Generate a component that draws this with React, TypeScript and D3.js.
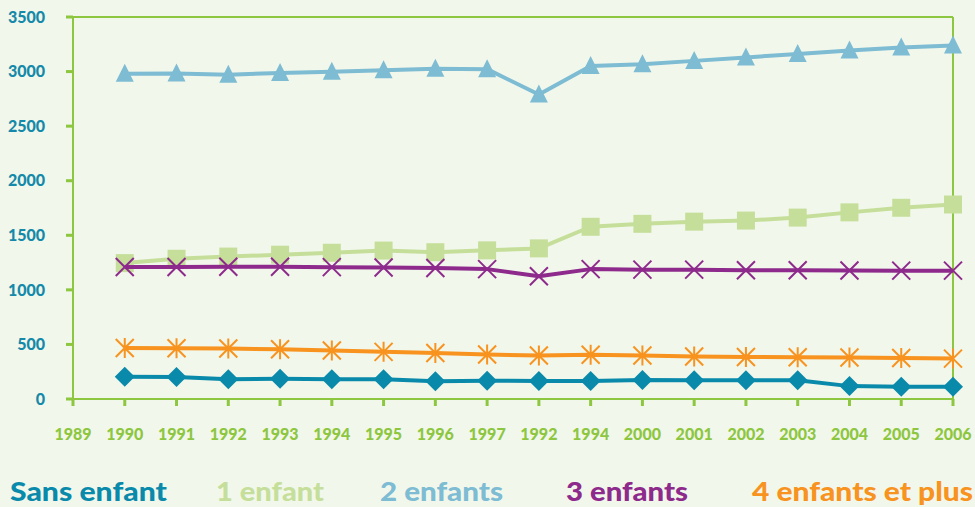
import React from "react";
import * as d3 from "d3";

const xLabels = ["1989","1990","1991","1992","1993","1994","1995","1996","1997","1992","1994","2000","2001","2002","2003","2004","2005","2006"];
const yTicks = [0, 500, 1000, 1500, 2000, 2500, 3000, 3500];

const sansEnfant = [205, 202, 182, 185, 182, 180, 163, 167, 165, 165, 175, 172, 172, 172, 118, 113, 113];
const unEnfant = [1245, 1285, 1305, 1322, 1340, 1360, 1345, 1362, 1380, 1578, 1605, 1625, 1635, 1662, 1710, 1752, 1782];
const deuxEnfants = [2980, 2982, 2972, 2988, 2998, 3012, 3025, 3022, 2790, 3052, 3068, 3098, 3130, 3162, 3192, 3220, 3240];
const troisEnfants = [1210, 1210, 1212, 1212, 1208, 1205, 1200, 1190, 1125, 1190, 1185, 1185, 1180, 1180, 1178, 1176, 1176];
const quatreEnfants = [468, 465, 462, 456, 445, 432, 422, 408, 398, 405, 398, 390, 385, 382, 380, 375, 370];

const seriesNames = ["Sans enfant", "1 enfant", "2 enfants", "3 enfants", "4 enfants et plus"];
const seriesColors = ["#0a8aab", "#c5df9b", "#7dbcd3", "#8d2a8c", "#f7931e"];
const seriesData = [sansEnfant, unEnfant, deuxEnfants, troisEnfants, quatreEnfants];
const seriesMarkers = ["diamond", "square", "triangle", "x", "asterisk"];
const legendX = [10, 216, 380, 566, 752];
const legendW = [157, 108, 123, 122, 221];

const W = 975, H = 507;
const left = 73, right = 953, top = 17, bottom = 399;
const green = "#8dc63f";

export default function App() {
  const x = d3.scaleLinear().domain([0, xLabels.length - 1]).range([left, right]);
  const y = d3.scaleLinear().domain([0, 3500]).range([bottom, top]);
  const line = d3.line<number>().x((_, i) => x(i + 1)).y((d) => y(d));

  const marker = (type: string, cx: number, cy: number, color: string, key: string) => {
    const s = 9;
    if (type === "diamond") {
      return <path key={key} d={`M${cx},${cy - s - 1}L${cx + s + 1},${cy}L${cx},${cy + s + 1}L${cx - s - 1},${cy}Z`} fill={color} />;
    }
    if (type === "square") {
      return <rect key={key} x={cx - s} y={cy - s} width={2 * s} height={2 * s} fill={color} />;
    }
    if (type === "triangle") {
      return <path key={key} d={`M${cx},${cy - s - 1}L${cx + s},${cy + s - 1}L${cx - s},${cy + s - 1}Z`} fill={color} />;
    }
    if (type === "x") {
      return <path key={key} d={`M${cx - s},${cy - s}L${cx + s},${cy + s}M${cx + s},${cy - s}L${cx - s},${cy + s}`} stroke={color} strokeWidth={2} />;
    }
    return (
      <path key={key}
        d={`M${cx - s},${cy - s}L${cx + s},${cy + s}M${cx + s},${cy - s}L${cx - s},${cy + s}M${cx},${cy - s - 1}L${cx},${cy + s + 1}`}
        stroke={color} strokeWidth={2} />
    );
  };

  const order = [1, 2, 3, 4, 0];

  return (
    <svg width={W} height={H} style={{ position: "absolute", left: 0, top: 0, display: "block" }}
      fontFamily="Lato, 'Open Sans', sans-serif">
      <rect width={W} height={H} fill="#f2f7eb" />
      <line x1={left} x2={right} y1={top} y2={top} stroke={green} strokeWidth={2} />
      <line x1={right} x2={right} y1={top} y2={bottom} stroke={green} strokeWidth={2} />
      <line x1={left} x2={left} y1={top} y2={bottom + 6} stroke={green} strokeWidth={2} />
      <line x1={left - 7} x2={right} y1={bottom} y2={bottom} stroke={green} strokeWidth={2} />
      {yTicks.map((t) => (
        <g key={"y" + t}>
          <line x1={left - 7} x2={left} y1={y(t)} y2={y(t)} stroke={green} strokeWidth={3} />
          <text x={45} y={y(t)} dy="0.36em" textAnchor="end" fill="#1589a9" fontSize={16} fontWeight={900}>{t}</text>
        </g>
      ))}
      {xLabels.map((l, i) => (
        <g key={"x" + i}>
          <line x1={x(i)} x2={x(i)} y1={bottom} y2={bottom + 7} stroke={green} strokeWidth={3} />
          <text x={x(i)} y={440} textAnchor="middle" fill={green} fontSize={16} fontWeight={900}>{l}</text>
        </g>
      ))}
      {order.map((k) => (
        <g key={"s" + k}>
          <path d={line(seriesData[k]) || ""} fill="none" stroke={seriesColors[k]} strokeWidth={4} strokeLinejoin="round" />
          {seriesData[k].map((v, i) => marker(seriesMarkers[k], x(i + 1), y(v), seriesColors[k], `m${k}-${i}`))}
        </g>
      ))}
      {seriesNames.map((n, k) => (
        <text key={"l" + k} x={legendX[k]} y={501} fill={seriesColors[k]} fontSize={27} fontWeight={900}
          textLength={legendW[k]} lengthAdjust="spacingAndGlyphs">{n}</text>
      ))}
    </svg>
  );
}
